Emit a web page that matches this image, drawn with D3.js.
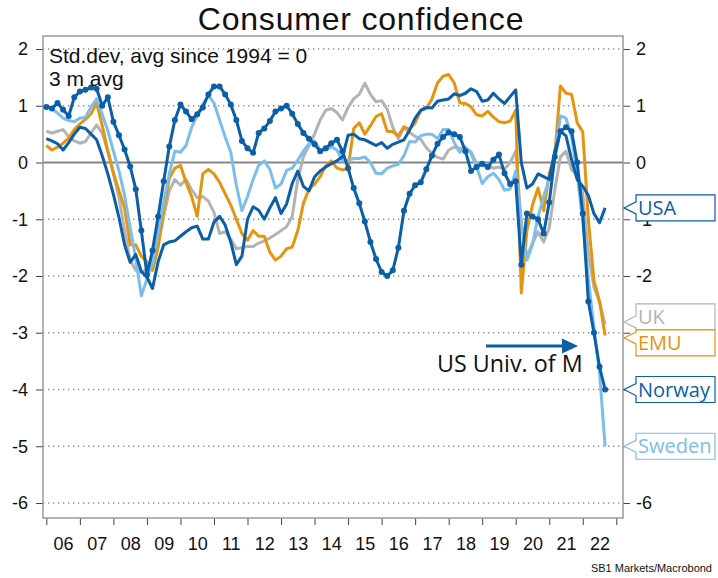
<!DOCTYPE html>
<html>
<head>
<meta charset="utf-8">
<script src="https://cdn.jsdelivr.net/npm/d3@7"></script>
<style>
  body { margin: 0; background: #fff; }
  svg text { font-family: "Liberation Sans", Arial, sans-serif; }
</style>
</head>
<body>
<svg id="chart" width="718" height="578"></svg>
<script>
// values every second month, first point Jan 2006
var startYear = 2006,
	stepMonths = 2;

var usa = [
	0.42, 0.38, 0.33, 0.22, 0.35, 0.5, 0.62, 0.6, 0.5, 0.4, 0.12, -0.2,
	-0.56, -0.97, -1.45, -1.76, -1.62, -1.92, -2.02, -2.22, -1.75, -1.45, -1.4, -1.38,
	-1.3, -1.22, -1.15, -1.12, -1.35, -1.35, -1.05, -0.95, -1.1, -1.4, -1.8, -1.65,
	-1.0, -0.78, -0.84, -1.0, -0.8, -0.62, -0.9, -0.73, -0.37, -0.15, -0.42, -0.5,
	-0.25, -0.15, -0.08, -0.02, 0.03, 0.1, 0.48, 0.5, 0.42, 0.4, 0.35, 0.3,
	0.35, 0.25, 0.32, 0.36, 0.4, 0.57, 0.78, 0.92, 0.97, 0.96, 1.08, 1.1,
	1.12, 1.21, 1.18, 1.22, 1.3, 1.25, 1.08, 1.1, 1.22, 1.12, 1.04, 1.16,
	1.28, 0.0, -0.45, -0.38, -0.2, -0.25, -0.3, 0.2, 0.55, 0.47, 0.05, -0.3,
	-0.42, -0.58, -0.9, -1.06, -0.8
];

var uk = [
	0.55, 0.52, 0.55, 0.58, 0.45, 0.38, 0.34, 0.37, 0.52, 0.66, 0.52, 0.2,
	-0.2, -0.62, -1.2, -1.72, -1.9, -1.94, -1.88, -1.72, -1.45, -0.95, -0.5, -0.3,
	-0.4, -0.3, -0.48, -0.62, -0.6, -0.68, -0.88, -1.25, -1.22, -1.35, -1.52, -1.5,
	-1.48, -1.48, -1.42, -1.38, -1.33, -1.27, -1.2, -1.13, -0.95, -0.3, 0.1, 0.3,
	0.5, 0.75, 0.92, 0.95, 0.88, 0.75, 0.97, 1.12, 1.2, 1.4, 1.2, 1.07,
	1.09, 0.94, 0.62, 0.42, 0.62, 0.53, 0.46, 0.41, 0.26, 0.16, 0.09, 0.06,
	0.22, 0.27, 0.25, 0.25, 0.19, -0.02, -0.06, -0.05, -0.1, -0.08, -0.12, 0.0,
	0.2, -1.05, -1.66, -1.42, -1.22, -1.4, -1.15, -0.48, 0.1, 0.2, -0.13, -0.22,
	-0.55, -1.6, -2.2, -2.45, -2.85
];

var emu = [
	0.3, 0.22, 0.27, 0.34, 0.43, 0.58, 0.68, 0.76, 0.86, 1.05, 0.65, 0.2,
	-0.18, -0.5, -0.8, -1.45, -1.45, -1.65, -1.75, -1.9, -1.5, -0.84, -0.28, -0.1,
	-0.05, -0.35, -0.6, -0.95, -0.2, -0.12, -0.2, -0.35, -0.55, -0.75, -1.0, -1.25,
	-1.37, -1.2, -1.3, -1.3, -1.58, -1.72, -1.65, -1.52, -1.49, -1.2, -0.72, -0.47,
	-0.38, -0.25, -0.06, 0.03, -0.1, -0.13, -0.1, 0.6, 0.7, 0.5, 0.65, 0.81,
	0.86, 0.55, 0.54, 0.47, 0.63, 0.58, 0.7, 0.92, 0.95, 1.12, 1.4, 1.52,
	1.55, 1.4, 1.05, 1.04, 0.98, 0.84, 0.82, 0.9, 0.8, 0.72, 0.7, 0.73,
	0.92, -2.3, -1.2, -0.75, -0.45, -0.85, -0.2, 0.15, 1.35, 1.22, 1.2, 0.7,
	0.54, -1.0, -2.08, -2.45, -3.05
];

var norway = [
	0.98, 0.95, 1.05, 0.93, 0.82, 1.15, 1.25, 1.28, 1.32, 1.3, 1.0, 1.15,
	0.72, 0.48, 0.23, -0.07, -0.47, -1.2, -1.98, -1.55, -0.95, -0.33, 0.28, 0.75,
	1.02, 0.9, 0.76, 0.85, 0.97, 1.2, 1.34, 1.34, 1.2, 1.02, 0.75, 0.38,
	0.25, 0.17, 0.52, 0.6, 0.73, 0.9, 0.95, 1.0, 0.86, 0.68, 0.52, 0.42,
	0.32, 0.2, 0.25, 0.34, 0.4, 0.2, -0.1, -0.45, -0.72, -1.04, -1.4, -1.7,
	-1.93, -2.0, -1.9, -1.5, -0.85, -0.55, -0.4, -0.35, -0.12, 0.12, 0.33, 0.45,
	0.53, 0.5, 0.45, 0.2, -0.15, -0.08, -0.02, -0.08, 0.05, 0.14, -0.19, -0.38,
	-0.33, -1.8, -0.9, -0.95, -1.0, -1.25, -0.7, 0.1, 0.55, 0.62, 0.55, 0.0,
	-0.9, -2.45, -3.0, -3.6, -4.0
];

var sweden = [
	1.0, 0.95, 0.87, 0.78, 0.74, 0.72, 0.78, 0.8, 0.98, 1.12, 0.85, 0.56,
	0.2, -0.15, -0.58, -1.15, -1.7, -2.35, -2.05, -1.78, -1.22, -0.7, -0.2, 0.2,
	0.18, 0.3, 0.62, 0.83, 1.03, 1.18, 1.05, 0.75, 0.45, 0.18, -0.4, -0.85,
	-0.6, -0.3, -0.05, 0.03, -0.12, -0.45, -0.38, -0.14, -0.1, 0.04, 0.2, 0.33,
	0.38, 0.22, 0.22, 0.28, 0.22, 0.03, 0.04, 0.07, 0.07, 0.1, 0.0, -0.19,
	-0.2, -0.1, -0.06, -0.03, 0.12, 0.37, 0.36, 0.47, 0.5, 0.5, 0.42, 0.58,
	0.58, 0.35, 0.18, 0.27, 0.16, -0.08, -0.37, -0.25, -0.19, -0.3, -0.49, -0.47,
	-0.15, -1.1, -1.72, -1.45, -0.95, -0.6, -0.28, 0.15, 0.82, 0.78, 0.45, -0.2,
	-1.05, -2.05, -2.9, -3.7, -5.0
];

var yTicks = [2, 1, 0, -1, -2, -3, -4, -5, -6];
var yTicksRight = [2, 1, 0, -1, -2, -6]; // the others sit under the end labels
var yearTicks = d3.range(2006, 2024);
var yearLabels = ["06", "07", "08", "09", "10", "11", "12", "13", "14", "15", "16", "17", "18", "19", "20", "21", "22"];

var darkBlue = "#0b5ea8",
	lightBlue = "#7dbde9",
	orange = "#e5940f",
	grey = "#b3b3b3";

// draw order: back to front
var series = [
	{ name: "UK", values: uk, color: grey },
	{ name: "EMU", values: emu, color: orange },
	{ name: "Sweden", values: sweden, color: lightBlue },
	{ name: "USA", values: usa, color: darkBlue },
	{ name: "Norway", values: norway, color: darkBlue, dots: true }
];

var plot = { left: 43, right: 623, top: 36, bottom: 518 };

var svg = d3.select("#chart");

var x = d3.scaleLinear()
	.domain([2005.9, 2023.2])
	.range([plot.left, plot.right]);

var y = d3.scaleLinear()
	.domain([-6.264, 2.229])
	.range([plot.bottom, plot.top]);

function when(i) { return startYear + i * stepMonths / 12; }

// title
svg.append("text")
	.attr("x", 361)
	.attr("y", 29.5)
	.attr("text-anchor", "middle")
	.style("font-size", "32px")
	.style("letter-spacing", "0.8px")
	.attr("fill", "#111")
	.text("Consumer confidence");

// grid
svg.append("g").selectAll("line")
	.data(yTicks.filter(function (d) { return d !== 0; }))
	.enter().append("line")
	.attr("x1", plot.left).attr("x2", plot.right)
	.attr("y1", function (d) { return y(d); })
	.attr("y2", function (d) { return y(d); })
	.attr("stroke", "#8a8a8a")
	.attr("stroke-width", 1.3)
	.attr("stroke-dasharray", "1.3,3.7");

svg.append("line")
	.attr("x1", plot.left).attr("x2", plot.right)
	.attr("y1", y(0)).attr("y2", y(0))
	.attr("stroke", "#858585")
	.attr("stroke-width", 2);

// axes
function styleAxis(g) {
	g.select(".domain").remove();
	g.selectAll(".tick line").attr("stroke", "#444");
	g.selectAll(".tick text")
		.attr("fill", "#111")
		.style("font-size", "18px")
		.style("font-family", "'Liberation Sans', Arial, sans-serif");
}

svg.append("g")
	.attr("transform", "translate(" + plot.left + ",0)")
	.call(d3.axisLeft(y).tickValues(yTicks).tickSize(7).tickPadding(8)
		.tickFormat(function (d) { return String(d); }))
	.call(styleAxis);

svg.append("g")
	.attr("transform", "translate(" + plot.right + ",0)")
	.call(d3.axisRight(y).tickValues(yTicks).tickSize(7).tickPadding(6)
		.tickFormat(function (d) { return yTicksRight.indexOf(d) >= 0 ? String(d) : ""; }))
	.call(styleAxis);

svg.append("g")
	.attr("transform", "translate(0," + plot.bottom + ")")
	.call(d3.axisBottom(x).tickValues(yearTicks).tickSize(7).tickFormat(""))
	.call(styleAxis);

svg.append("g")
	.attr("transform", "translate(0," + plot.bottom + ")")
	.call(d3.axisBottom(x).tickValues(yearTicks.slice(0, -1).map(function (d) { return d + 0.5; }))
		.tickSize(0).tickPadding(19)
		.tickFormat(function (d, i) { return yearLabels[i]; }))
	.call(styleAxis);

// frame
svg.append("rect")
	.attr("x", plot.left).attr("y", plot.top)
	.attr("width", plot.right - plot.left)
	.attr("height", plot.bottom - plot.top)
	.attr("fill", "none")
	.attr("stroke", "#9a9a9a")
	.attr("stroke-width", 1.5);

// lines
var line = d3.line()
	.x(function (d, i) { return x(when(i)); })
	.y(function (d) { return y(d); });

var lines = svg.append("g");
series.forEach(function (s) {
	lines.append("path")
		.datum(s.values)
		.attr("d", line)
		.attr("fill", "none")
		.attr("stroke", s.color)
		.attr("stroke-width", 3)
		.attr("stroke-linejoin", "round");
	if (s.dots) {
		lines.append("g").selectAll("circle")
			.data(s.values)
			.enter().append("circle")
			.attr("cx", function (d, i) { return x(when(i)); })
			.attr("cy", function (d) { return y(d); })
			.attr("r", 3)
			.attr("fill", s.color);
	}
});

// notes
var note = svg.append("g")
	.style("font-size", "21px")
	.attr("fill", "#111");
note.append("text").attr("x", 49).attr("y", 63).text("Std.dev, avg since 1994 = 0");
note.append("text").attr("x", 49).attr("y", 86).text("3 m avg");

// US Univ. of M annotation
svg.append("line")
	.attr("x1", 486).attr("x2", 564)
	.attr("y1", 346).attr("y2", 346)
	.attr("stroke", darkBlue)
	.attr("stroke-width", 3);
svg.append("path")
	.attr("d", "M562,338.5L578,346L562,353.5Z")
	.attr("fill", darkBlue);
svg.append("text")
	.attr("x", 437).attr("y", 372)
	.style("font-family", "'Open Sans', sans-serif")
	.style("font-size", "23.3px")
	.attr("fill", "#111")
	.text("US Univ. of M");

// end labels
var boxH = 26, boxX = 636, boxW = 79;
var labels = series.map(function (s) {
	var v = s.values[s.values.length - 1];
	return { name: s.name, color: s.color, target: y(v), pos: y(v) };
}).sort(function (a, b) { return a.target - b.target; });

for (var k = 0; k < 50; k++) {
	for (var j = 1; j < labels.length; j++) {
		var gap = labels[j].pos - labels[j - 1].pos;
		if (gap < boxH) {
			var shift = (boxH - gap) / 2;
			labels[j - 1].pos -= shift;
			labels[j].pos += shift;
		}
	}
}

var tags = svg.append("g").selectAll("g")
	.data(labels)
	.enter().append("g");

tags.append("path")
	.attr("d", function (d) {
		var top = d.pos - boxH / 2, bot = d.pos + boxH / 2;
		var tip = Math.max(d.pos - 5, Math.min(d.pos + 5, d.target));
		return "M" + boxX + "," + top +
			"H" + (boxX + boxW) + "V" + bot + "H" + boxX +
			"V" + (tip + 6) + "L" + (plot.right + 1) + "," + tip +
			"L" + boxX + "," + (tip - 6) + "Z";
	})
	.attr("fill", "#fff")
	.attr("stroke", function (d) { return d.color; })
	.attr("stroke-width", 1.2);

tags.append("text")
	.attr("x", boxX + 2)
	.attr("y", function (d) { return d.pos + 7; })
	.style("font-family", "'Open Sans', sans-serif")
	.style("font-size", "20px")
	.attr("fill", function (d) { return d.color; })
	.text(function (d) { return d.name; });

// source
svg.append("text")
	.attr("x", 712).attr("y", 572)
	.attr("text-anchor", "end")
	.style("font-size", "11px")
	.attr("fill", "#111")
	.text("SB1 Markets/Macrobond");
</script>
</body>
</html>
